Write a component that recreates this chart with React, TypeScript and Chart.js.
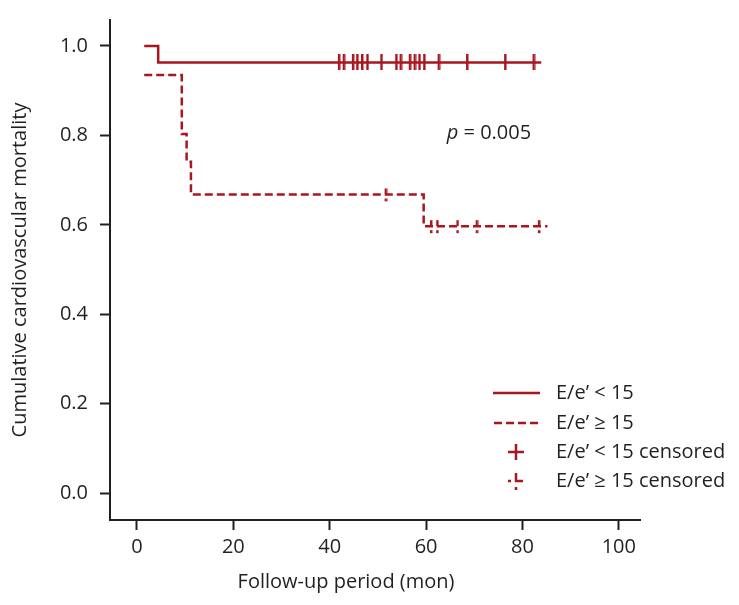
import React, { useEffect, useRef } from 'react';
import { Chart, registerables } from 'chart.js';

Chart.register(...registerables);

const X_TICKS = [0, 20, 40, 60, 80, 100];
const Y_TICKS = [0.0, 0.2, 0.4, 0.6, 0.8, 1.0];

// E/e' < 15 (solid step curve)
const LOW_TIMES = [1.5, 4.4, 83.9];
const LOW_VALUES = [1.0, 0.963, 0.963];
const LOW_CENSOR_TIMES = [41.9, 42.9, 44.8, 45.7, 46.7, 47.8, 50.7, 53.8, 54.7, 56.6, 57.6, 58.6, 59.6, 62.6, 68.5, 76.4, 82.3];
const LOW_CENSOR_VALUES = [0.963, 0.963, 0.963, 0.963, 0.963, 0.963, 0.963, 0.963, 0.963, 0.963, 0.963, 0.963, 0.963, 0.963, 0.963, 0.963, 0.963];

// E/e' >= 15 (dashed step curve)
const HIGH_TIMES = [1.5, 9.3, 10.3, 11.2, 59.5, 85.2];
const HIGH_VALUES = [0.935, 0.803, 0.741, 0.668, 0.597, 0.597];
const HIGH_CENSOR_TIMES = [51.6, 61.0, 62.3, 66.5, 70.5, 83.4];
const HIGH_CENSOR_VALUES = [0.668, 0.597, 0.597, 0.597, 0.597, 0.597];

const LEGEND_LABELS = ['E/e\u2019 < 15', 'E/e\u2019 \u2265 15', 'E/e\u2019 < 15 censored', 'E/e\u2019 \u2265 15 censored'];
const P_LABEL = ['p', ' = 0.005'];
const P_POS = [64.3, 0.805];
const X_TITLE = 'Follow-up period (mon)';
const Y_TITLE = 'Cumulative cardiovascular mortality';

const RED = '#a8161f';
const INK = '#231f20';
const FONT = '"Open Sans", sans-serif';
const FS = 20;

function makeSolidCensor() {
  const c = document.createElement('canvas');
  c.width = 4; c.height = 16;
  const g = c.getContext('2d')!;
  g.fillStyle = RED;
  g.fillRect(1, 0, 2.5, 16);
  return c;
}
function makeDashedCensor() {
  const c = document.createElement('canvas');
  c.width = 4; c.height = 16;
  const g = c.getContext('2d')!;
  g.fillStyle = RED;
  g.fillRect(1, 2, 2.5, 6);
  g.fillRect(1, 12, 2.5, 3);
  return c;
}

const overlayPlugin = {
  id: 'overlay',
  afterDraw(chart: any) {
    const { ctx, chartArea, scales } = chart;
    ctx.save();
    // p value
    const px = scales.x.getPixelForValue(P_POS[0]);
    const py = scales.y.getPixelForValue(P_POS[1]);
    ctx.fillStyle = INK;
    ctx.textBaseline = 'middle';
    ctx.textAlign = 'left';
    ctx.font = `italic ${FS}px ${FONT}`;
    ctx.fillText(P_LABEL[0], px, py);
    const w = ctx.measureText(P_LABEL[0]).width;
    ctx.font = `${FS}px ${FONT}`;
    ctx.fillText(P_LABEL[1], px + w, py);

    // x title
    ctx.textAlign = 'center';
    ctx.fillText(X_TITLE, chartArea.left + 236, chartArea.bottom + 62);

    // legend
    const sx0 = chartArea.right - 147;
    const sx1 = chartArea.right - 100;
    const cx = chartArea.right - 124;
    const tx = chartArea.right - 84;
    const rows = [chartArea.bottom - 127, chartArea.bottom - 97, chartArea.bottom - 68, chartArea.bottom - 39];
    ctx.strokeStyle = RED;
    ctx.lineWidth = 2.5;
    ctx.beginPath(); ctx.moveTo(sx0, rows[0]); ctx.lineTo(sx1, rows[0]); ctx.stroke();
    ctx.setLineDash([8, 4]);
    ctx.beginPath(); ctx.moveTo(sx0 + 1, rows[1]); ctx.lineTo(sx1, rows[1]); ctx.stroke();
    ctx.setLineDash([]);
    ctx.lineWidth = 2.5;
    ctx.beginPath();
    ctx.moveTo(cx - 8, rows[2]); ctx.lineTo(cx + 8, rows[2]);
    ctx.moveTo(cx, rows[2] - 8); ctx.lineTo(cx, rows[2] + 8);
    ctx.stroke();
    ctx.lineWidth = 2.5;
    ctx.beginPath();
    ctx.moveTo(cx, rows[3] - 8); ctx.lineTo(cx, rows[3] + 1);
    ctx.moveTo(cx - 1, rows[3]); ctx.lineTo(cx + 7, rows[3]);
    ctx.moveTo(cx - 8, rows[3]); ctx.lineTo(cx - 5, rows[3]);
    ctx.moveTo(cx, rows[3] + 6); ctx.lineTo(cx, rows[3] + 9);
    ctx.stroke();
    ctx.fillStyle = INK;
    ctx.textAlign = 'left';
    ctx.font = `${FS}px ${FONT}`;
    LEGEND_LABELS.forEach((t, i) => ctx.fillText(t, tx, rows[i]));
    ctx.restore();
  },
};

export default function App() {
  const ref = useRef<HTMLCanvasElement | null>(null);
  useEffect(() => {
    if (!ref.current) return;
    const solidMark = makeSolidCensor();
    const dashMark = makeDashedCensor();
    const chart = new Chart(ref.current, {
      type: 'line',
      data: {
        datasets: [
          {
            label: LEGEND_LABELS[0],
            data: LOW_TIMES.map((t, i) => ({ x: t, y: LOW_VALUES[i] })),
            borderColor: RED,
            borderWidth: 2.5,
            stepped: 'before',
            pointRadius: 0,
            fill: false,
          },
          {
            label: LEGEND_LABELS[1],
            data: HIGH_TIMES.map((t, i) => ({ x: t, y: HIGH_VALUES[i] })),
            borderColor: RED,
            borderWidth: 2.5,
            borderDash: [8, 4],
            stepped: 'before',
            pointRadius: 0,
            fill: false,
          },
          {
            label: LEGEND_LABELS[2],
            data: LOW_CENSOR_TIMES.map((t, i) => ({ x: t, y: LOW_CENSOR_VALUES[i] })),
            showLine: false,
            pointStyle: solidMark as any,
            pointRadius: 8,
          },
          {
            label: LEGEND_LABELS[3],
            data: HIGH_CENSOR_TIMES.map((t, i) => ({ x: t, y: HIGH_CENSOR_VALUES[i] })),
            showLine: false,
            pointStyle: dashMark as any,
            pointRadius: 8,
          },
        ],
      },
      options: {
        animation: false,
        responsive: false,
        devicePixelRatio: 1,
        layout: { padding: { top: 20, right: 99, left: 0, bottom: 0 } },
        plugins: { legend: { display: false }, tooltip: { enabled: false } },
        scales: {
          x: {
            type: 'linear',
            min: -5.6,
            max: 104.4,
            afterFit: (s: any) => { s.height = 85; },
            afterBuildTicks: (s: any) => { s.ticks = X_TICKS.map((v) => ({ value: v })); },
            grid: { display: true, drawOnChartArea: false, drawTicks: true, tickLength: 10, tickWidth: 2, tickColor: INK },
            border: { display: true, color: INK, width: 2 },
            ticks: { color: INK, font: { family: FONT, size: FS }, padding: 5, maxRotation: 0, autoSkip: false },
          },
          y: {
            type: 'linear',
            min: -0.06,
            max: 1.058,
            afterFit: (s: any) => { s.width = 110; },
            afterBuildTicks: (s: any) => { s.ticks = Y_TICKS.map((v) => ({ value: v })); },
            grid: { display: true, drawOnChartArea: false, drawTicks: true, tickLength: 10, tickWidth: 2, tickColor: INK },
            border: { display: true, color: INK, width: 2 },
            ticks: { color: INK, font: { family: FONT, size: FS, lineHeight: 0.6 }, padding: 12, callback: (v: any) => Number(v).toFixed(1), autoSkip: false },
            title: { display: true, text: Y_TITLE, color: INK, font: { family: FONT, size: FS }, padding: { top: 8, bottom: 0 } },
          },
        },
      },
      plugins: [overlayPlugin],
    } as any);
    return () => chart.destroy();
  }, []);
  return (
    <div style={{ position: 'fixed', left: 0, top: 0, width: 739, height: 605, background: '#fff' }}>
      <canvas ref={ref} width={739} height={605} />
    </div>
  );
}
